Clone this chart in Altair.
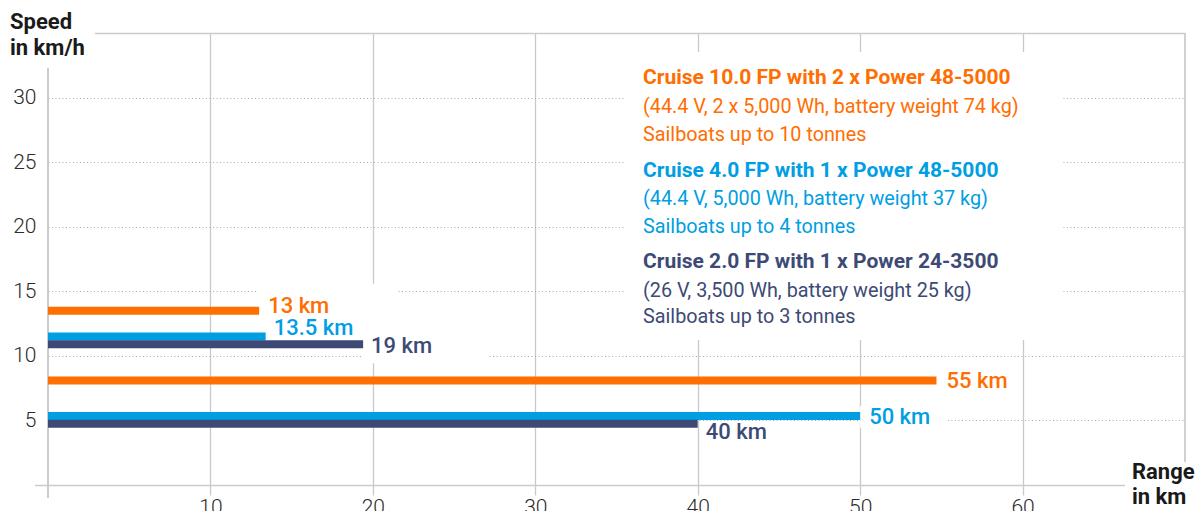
import altair as alt
import pandas as pd

# ---------------- data ----------------
series_names = ["Cruise 10.0 FP", "Cruise 4.0 FP", "Cruise 2.0 FP"]
series_colors = ["#ff6e00", "#009ee2", "#3d4a75"]

bar_series = ["Cruise 10.0 FP", "Cruise 4.0 FP", "Cruise 2.0 FP",
              "Cruise 10.0 FP", "Cruise 4.0 FP", "Cruise 2.0 FP"]
speed_kmh = [13.5, 11.5, 10.9, 8.1, 5.35, 4.75]
range_km = [13.0, 13.4, 19.4, 54.7, 50.0, 40.0]
range_labels = ["13 km", "13.5 km", "19 km", "55 km", "50 km", "40 km"]

x_ticks = [10, 20, 30, 40, 50, 60]
y_ticks = [5, 10, 15, 20, 25, 30]

legend_lines = [
    ["Cruise 10.0 FP with 2 x Power 48-5000",
     "(44.4 V, 2 x 5,000 Wh, battery weight 74 kg)",
     "Sailboats up to 10 tonnes"],
    ["Cruise 4.0 FP with 1 x Power 48-5000",
     "(44.4 V, 5,000 Wh, battery weight 37 kg)",
     "Sailboats up to 4 tonnes"],
    ["Cruise 2.0 FP with 1 x Power 24-3500",
     "(26 V, 3,500 Wh, battery weight 25 kg)",
     "Sailboats up to 3 tonnes"],
]
y_title = ["Speed", "in km/h"]
x_title = ["Range", "in km"]

df = pd.DataFrame({
    "idx": list(range(len(speed_kmh))),
    "series": bar_series,
    "speed": speed_kmh,
    "range": range_km,
    "label": range_labels,
})
one = pd.DataFrame({"a": [0]})

FONT = "Roboto"
W, H = 1137, 452
GRID = "#c9c9c9"
FRAME = "#cccccc"

color_enc = alt.Color("series:N", scale=alt.Scale(domain=series_names, range=series_colors), legend=None)
x_scale = alt.Scale(domain=[0, 70], nice=False, zero=True)
y_scale = alt.Scale(domain=[0, 35], nice=False, zero=True)

base = alt.Chart(df)

bars = base.mark_rule(strokeWidth=8).encode(
    x=alt.X("range:Q", scale=x_scale, title="",
            axis=alt.Axis(values=x_ticks, domain=False, grid=True, gridColor=GRID, gridWidth=1.3,
                          ticks=True, tickSize=10, tickColor=GRID, tickWidth=1.3,
                          labelBaseline="top", labelPadding=1, labelFontSize=21,
                          labelFont=FONT, labelFontWeight=300, labelColor="#2b2b2b", title="")),
    x2=alt.datum(0),
    y=alt.Y("speed:Q", scale=y_scale, title="",
            axis=alt.Axis(values=y_ticks, domain=False, grid=True, gridColor="#a8a8a8", gridWidth=1,
                          gridDash=[1, 2.5], ticks=False, labelPadding=12, labelFontSize=21,
                          labelFont=FONT, labelFontWeight=300, labelColor="#2b2b2b", title="")),
    color=color_enc,
)

# white boxes that hide grid lines behind some value labels (offsets in px)
mask_specs = {0: (-1, 138, -27, 34), 2: (0, 124, -14, 19), 4: (0, 87, -10, 12)}
masks = []
for i, (x0, x1, y0, y1) in mask_specs.items():
    masks.append(
        base.transform_filter(alt.datum.idx == i).mark_rect(
            color="white", xOffset=x0, x2Offset=x1, yOffset=y0, y2Offset=y1
        ).encode(x=alt.X("range:Q", scale=x_scale, title=""), x2="range:Q",
                 y=alt.Y("speed:Q", scale=y_scale, title=""), y2="speed:Q")
    )

# value labels (dx, dy in px)
label_offsets = [(9, -4.5), (8, -8), (8, 2), (10, 1), (9, 1), (8, 8.5)]
labels = []
for i, (dx, dy) in enumerate(label_offsets):
    labels.append(
        base.transform_filter(alt.datum.idx == i).mark_text(
            align="left", baseline="middle", dx=dx, dy=dy, fontSize=22, fontWeight=500, font=FONT
        ).encode(x=alt.X("range:Q", scale=x_scale, title=""),
                 y=alt.Y("speed:Q", scale=y_scale, title=""),
                 text="label:N", color=color_enc)
    )

# frame lines (px in plot area)
def rule(x1, x2, y1, y2, w):
    return alt.Chart(one).mark_rule(color=FRAME, strokeWidth=w).encode(
        x=alt.value(x1), x2=alt.value(x2), y=alt.value(y1), y2=alt.value(y2))

frame = [
    rule(47, W, 0.5, 0.5, 1.6),        # top
    rule(W, W, 0, 429, 1.8),          # right
    rule(0, 0, 35, 465, 2),           # y axis
    rule(-13, 1077, 452.5, 452.5, 1.6),  # x axis
]

# legend block
legend_mask = alt.Chart(one).mark_rect(color="white").encode(
    x=alt.value(577), x2=alt.value(1015), y=alt.value(19), y2=alt.value(307))

legend_baselines = [[51.3, 79.7, 107.7], [143.7, 172.0, 199.7], [235.3, 263.7, 290.3]]
legend_texts = []
for g, lines in enumerate(legend_lines):
    for j, line in enumerate(lines):
        legend_texts.append(
            alt.Chart(one).mark_text(
                align="left", baseline="alphabetic", fontSize=21 if j == 0 else 19.8, font=FONT,
                fontWeight="bold" if j == 0 else "normal", color=series_colors[g]
            ).encode(x=alt.value(595), y=alt.value(legend_baselines[g][j]), text=alt.value(line))
        )

def title_text(txt, x, y):
    return alt.Chart(one).mark_text(
        align="left", baseline="alphabetic", fontSize=22, font=FONT, fontWeight="bold", color="#1a1a1a"
    ).encode(x=alt.value(x), y=alt.value(y), text=alt.value(txt))

titles = [
    title_text(y_title[0], -38, -4), title_text(y_title[1], -38, 22),
    title_text(x_title[0], 1084, 446.3), title_text(x_title[1], 1084, 471.3),
]

chart = alt.layer(
    *masks, legend_mask, *frame, bars, *labels, *legend_texts, *titles
).properties(
    width=W, height=H,
    autosize=alt.AutoSizeParams(type="none"),
    padding={"left": 40, "top": 25, "right": 10, "bottom": 26},
).configure_view(strokeWidth=0)

chart.save("out.html", embed_options={"renderer": "svg", "actions": False})
